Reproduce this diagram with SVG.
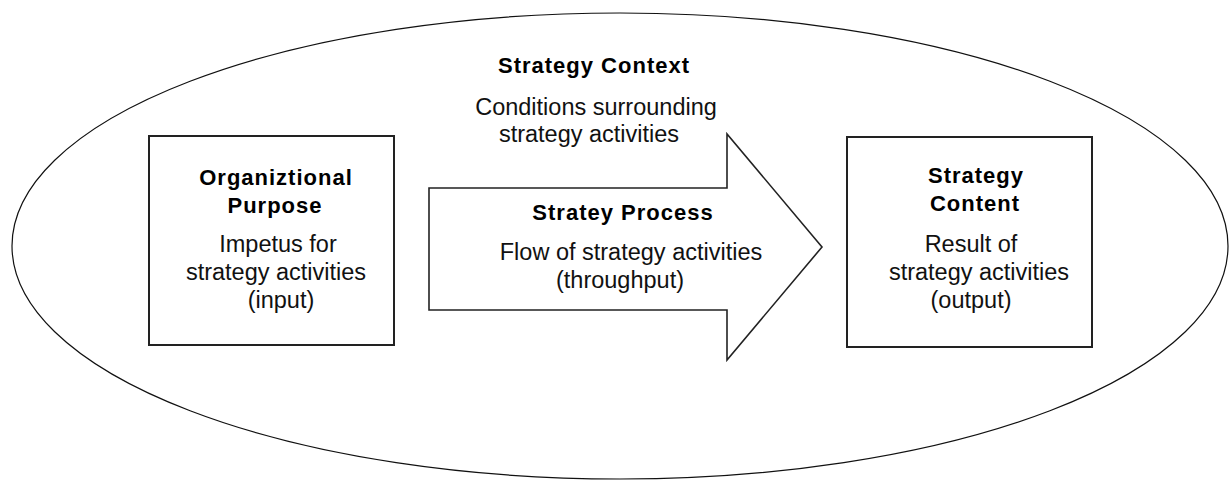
<svg xmlns="http://www.w3.org/2000/svg" width="1230" height="480" viewBox="0 0 1230 480">
  <style>
    .outline { fill: none; stroke: #111; stroke-width: 1.2; }
    .box { fill: #fff; stroke: #222; stroke-width: 2; }
    .arrow { fill: #fff; stroke: #222; stroke-width: 1.6; stroke-linejoin: miter; }
    .title { font-family: "Liberation Sans", Arial, sans-serif; font-size: 22px; font-weight: bold; letter-spacing: 1px; fill: #000; text-anchor: middle; }
    .desc { font-family: "Liberation Sans", Arial, sans-serif; font-size: 23.5px; fill: #111; text-anchor: middle; }
  </style>
  <rect width="1230" height="480" fill="#fff"/>

  <!-- surrounding context -->
  <g id="context">
    <ellipse class="outline" cx="620" cy="246" rx="608" ry="233"/>
    <text class="title" x="594" y="73">Strategy Context</text>
    <text class="desc" x="596" y="115">Conditions surrounding</text>
    <text class="desc" x="589" y="142">strategy activities</text>
  </g>

  <!-- input -->
  <g id="purpose">
    <rect class="box" x="149" y="136" width="245" height="209"/>
    <text class="title" x="276" y="185">Organiztional</text>
    <text class="title" x="275" y="213">Purpose</text>
    <text class="desc" x="278" y="252">Impetus for</text>
    <text class="desc" x="276" y="280">strategy activities</text>
    <text class="desc" x="281" y="308">(input)</text>
  </g>

  <!-- throughput arrow -->
  <g id="process">
    <polygon class="arrow" points="429,188 727,188 727,134 822,247 727,360 727,310 429,310"/>
    <text class="title" x="623" y="220">Stratey Process</text>
    <text class="desc" x="631" y="260">Flow of strategy activities</text>
    <text class="desc" x="620" y="288">(throughput)</text>
  </g>

  <!-- output -->
  <g id="content">
    <rect class="box" x="847" y="137" width="245" height="210"/>
    <text class="title" x="976" y="183">Strategy</text>
    <text class="title" x="975" y="211">Content</text>
    <text class="desc" x="971" y="252">Result of</text>
    <text class="desc" x="979" y="280">strategy activities</text>
    <text class="desc" x="971" y="308">(output)</text>
  </g>

  <g id="connectors"/>
</svg>
